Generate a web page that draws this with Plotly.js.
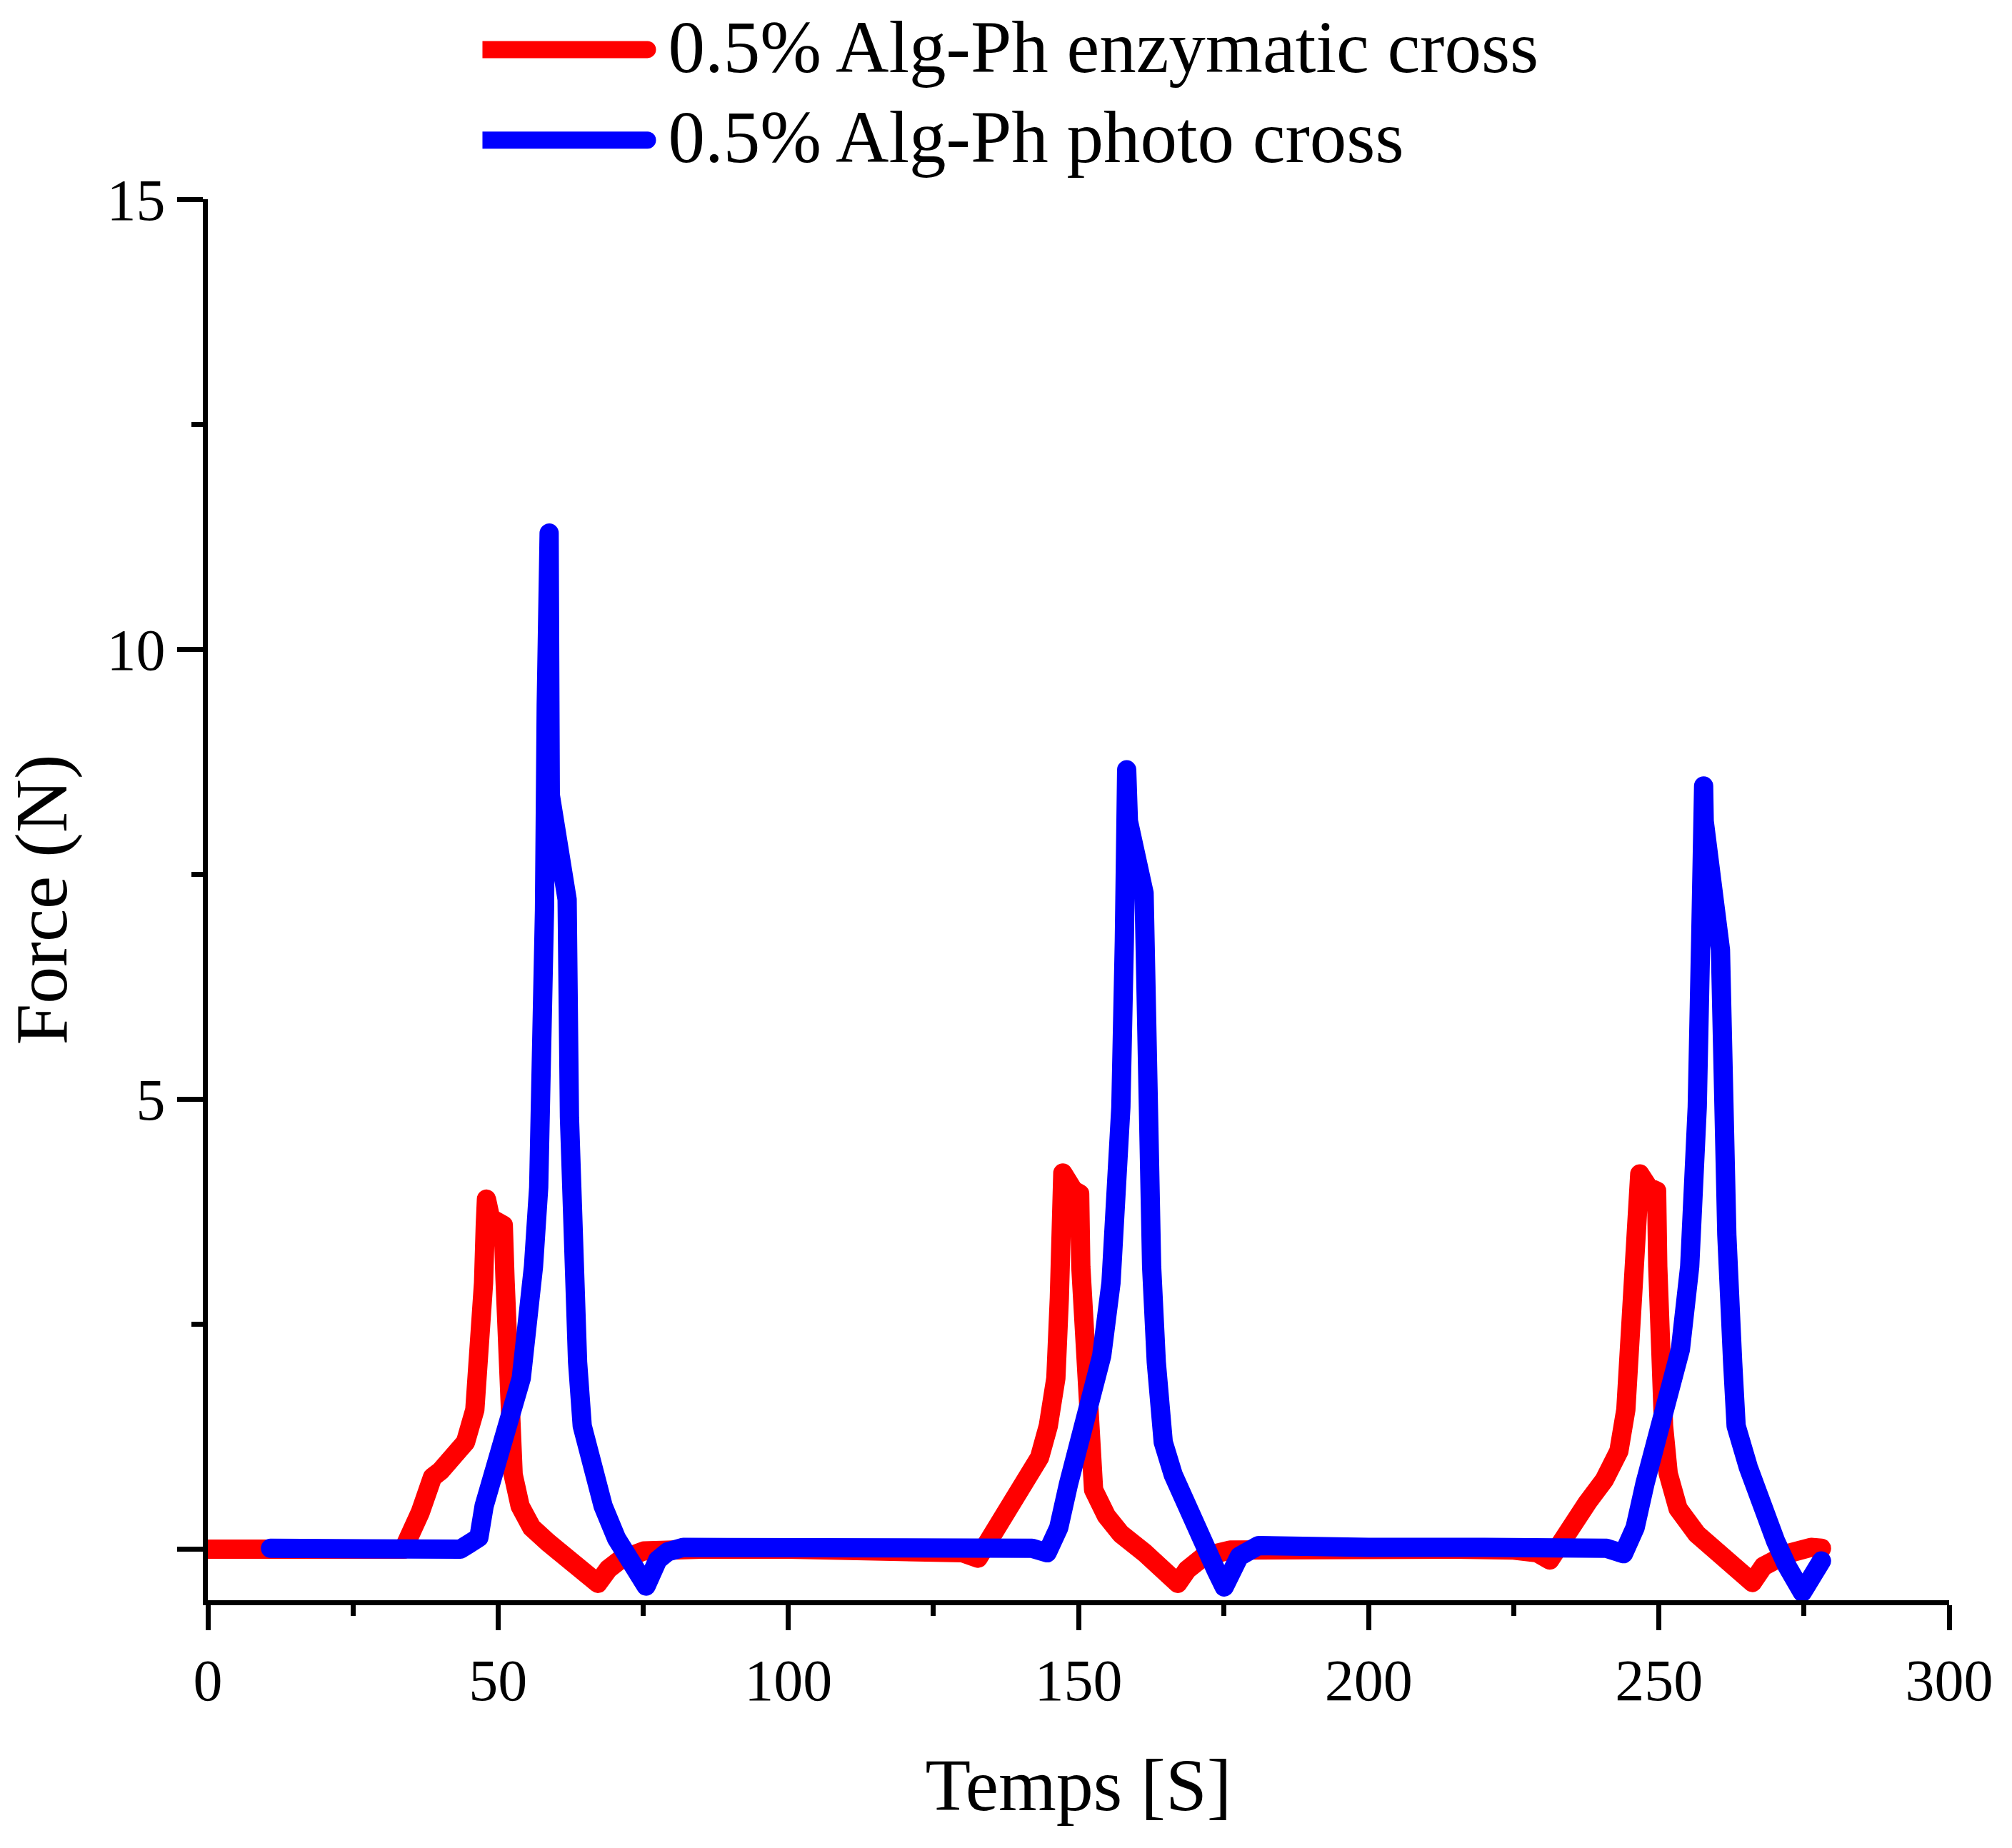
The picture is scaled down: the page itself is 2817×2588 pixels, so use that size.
<!DOCTYPE html>
<html><head><meta charset="utf-8">
<script src="https://cdn.plot.ly/plotly-3.0.1.min.js"></script>
<style>
html,body{margin:0;padding:0;background:#fff;}
.js-line{stroke-linejoin:round !important;stroke-linecap:round !important;}
.legendlines path{stroke-width:24px !important;stroke-linecap:round !important;transform:translate(-24px,9px);}
</style></head><body>
<div id="chart" style="width:2817px;height:2588px;"></div>
<script>
// Series names
const seriesNames = ["0.5% Alg-Ph enzymatic cross", "0.5% Alg-Ph photo cross"];

// Enzymatic cross (red): time [s] and force [N]
const redTime = [0, 10, 20, 26, 28, 31, 33, 33.7, 36.6, 38.7, 40.1, 42.4, 44.4, 46.0, 46.8, 47.5, 47.8, 48.0, 48.7, 50.0,
  50.9, 51.2, 51.4, 52.0, 52.6, 53.8, 55.8, 58.7, 62.8, 67.2, 69.0, 71.0, 75.1, 79.2, 85, 100, 115, 125, 130, 132.7,
  135.2, 137.7, 140.6, 143.3, 144.8, 146.1, 146.7, 147.0, 147.3, 149.1, 150.2, 150.4, 151.0, 151.6, 152.6, 154.8, 157.3, 161.4, 167.1, 168.7,
  171.6, 176.1, 185, 200, 215, 225, 229, 231.2, 234.5, 237.7, 240.6, 243.1, 244.3, 245.1, 245.5, 246.7, 248.2, 249.6, 249.8, 250.2,
  250.8, 251.6, 253.3, 256.5, 261.9, 266.1, 268.0, 272.1, 276.2, 278.0];
const redForce = [0, 0, 0, 0, -0.03, -0.05, -0.04, 0.0, 0.41, 0.80, 0.87, 1.05, 1.19, 1.55, 2.08, 2.96, 3.6, 3.89, 3.68, 3.64,
  3.6, 3.0, 2.43, 1.37, 0.83, 0.48, 0.24, 0.07, -0.15, -0.38, -0.22, -0.12, -0.02, 0.0, 0, 0, 0, -0.01, -0.04, -0.10,
  0.17, 0.45, 0.73, 1.02, 1.37, 1.90, 2.79, 3.8, 4.18, 3.99, 3.95, 3.14, 2.08, 1.02, 0.66, 0.37, 0.17, -0.04, -0.38, -0.23,
  -0.08, -0.01, 0, 0, 0, -0.01, -0.04, -0.12, 0.24, 0.52, 0.77, 1.09, 1.55, 2.43, 3.49, 4.17, 4.02, 3.98, 3.14, 2.08,
  1.37, 0.84, 0.45, 0.17, -0.12, -0.37, -0.19, -0.05, 0.02, 0.01];

// Photo cross (blue): time [s] and force [N]
const blueTime = [10.8, 20, 30, 38, 42, 43.5, 45.0, 46.7, 47.6, 49.1, 51.6, 54.0, 55.1, 56.1, 57.0, 57.5, 58.0, 58.3, 58.7, 58.8,
  59.0, 61.9, 62.3, 62.9, 63.7, 64.5, 66.4, 68.1, 70.4, 72.8, 75.5, 77.5, 79.2, 81.9, 90, 100, 120, 135, 142, 144.6,
  146.6, 148.3, 149.9, 152.4, 154.0, 155.6, 156.5, 157.3, 157.9, 158.3, 158.6, 161.3, 161.8, 162.6, 163.4, 164.6, 166.3, 168.7, 171.6, 173.6,
  175.1, 177.7, 181.0, 190, 200, 220, 235, 241, 243.9, 245.9, 247.6, 249.6, 252.1, 253.7, 255.3, 256.2, 256.6, 257.2, 257.7, 257.8,
  260.6, 261.0, 261.7, 262.7, 263.3, 265.4, 267.2, 270.1, 272.1, 274.7, 278.0];
const blueForce = [0.01, 0.01, 0.0, -0.02, -0.01, 0.0, 0.06, 0.13, 0.48, 0.90, 1.37, 1.90, 2.43, 3.14, 4.02, 4.91, 7.1, 9.38, 10.75, 11.29,
  8.38, 7.22, 4.8, 3.14, 2.08, 1.37, 0.83, 0.48, 0.12, -0.15, -0.41, -0.12, -0.03, 0.02, 0.02, 0.02, 0.02, 0.02, 0.01, -0.04,
  0.24, 0.73, 1.16, 1.72, 2.15, 2.96, 3.85, 4.91, 6.76, 8.66, 8.09, 7.29, 4.8, 3.14, 2.08, 1.19, 0.83, 0.45, 0.02, -0.22,
  -0.42, -0.08, 0.04, 0.02, 0.02, 0.02, 0.02, 0.01, -0.05, 0.24, 0.73, 1.16, 1.72, 2.22, 3.14, 4.02, 4.91, 6.78, 8.48, 8.09,
  6.66, 4.8, 3.49, 2.08, 1.37, 0.91, 0.56, 0.09, -0.19, -0.48, -0.13];

// Axis ticks
const xTickVals = [0, 50, 100, 150, 200, 250, 300];
const xTickText = ["0", "50", "100", "150", "200", "250", "300"];
const yTickVals = [0, 5, 10, 15];
const yTickText = ["", "5", "10", "15"];

const FONT = "Liberation Serif, Times New Roman, serif";

const traces = [
  {x: redTime, y: redForce, type: "scatter", mode: "lines", name: seriesNames[0], legend: "legend",
   line: {color: "#ff0000", width: 27}},
  {x: blueTime, y: blueForce, type: "scatter", mode: "lines", name: seriesNames[1], legend: "legend2",
   line: {color: "#0000ff", width: 27}}
];

const legendCommon = {xanchor: "left", yanchor: "middle", orientation: "v",
  font: {family: FONT, size: 103, color: "#000"}, itemwidth: 250,
  bgcolor: "rgba(0,0,0,0)", borderwidth: 0};

const layout = {
  width: 2817, height: 2588,
  paper_bgcolor: "#ffffff", plot_bgcolor: "#ffffff",
  margin: {l: 291, r: 88, t: 279, b: 347, pad: 0, autoexpand: false},
  font: {family: FONT, color: "#000000"},
  showlegend: true,
  legend: Object.assign({x: 0.1577, y: 1.1114}, legendCommon),
  legend2: Object.assign({x: 0.1577, y: 1.0467}, legendCommon),
  xaxis: {
    range: [0, 300], autorange: false,
    tickmode: "array", tickvals: xTickVals, ticktext: xTickText,
    ticks: "outside", ticklen: 35, tickwidth: 7, tickcolor: "#000",
    minor: {dtick: 25, tick0: 0, ticks: "outside", ticklen: 15, tickwidth: 7, tickcolor: "#000", showgrid: false},
    showline: true, linewidth: 7, linecolor: "#000", mirror: false,
    showgrid: false, zeroline: false,
    tickfont: {family: FONT, size: 82, color: "#000"},
    title: {text: "Temps [S]", font: {family: FONT, size: 104, color: "#000"}, standoff: 66}
  },
  yaxis: {
    range: [-0.567, 15], autorange: false,
    tickmode: "array", tickvals: yTickVals, ticktext: yTickText,
    ticks: "outside", ticklen: 36, tickwidth: 7, tickcolor: "#000",
    minor: {dtick: 2.5, tick0: 0, ticks: "outside", ticklen: 16, tickwidth: 7, tickcolor: "#000", showgrid: false},
    showline: true, linewidth: 7, linecolor: "#000", mirror: false,
    showgrid: false, zeroline: false,
    tickfont: {family: FONT, size: 82, color: "#000"},
    title: {text: "Force (N)", font: {family: FONT, size: 104, color: "#000"}, standoff: 28}
  }
};

Plotly.newPlot("chart", traces, layout, {staticPlot: true, displayModeBar: false});
</script>
</body></html>
